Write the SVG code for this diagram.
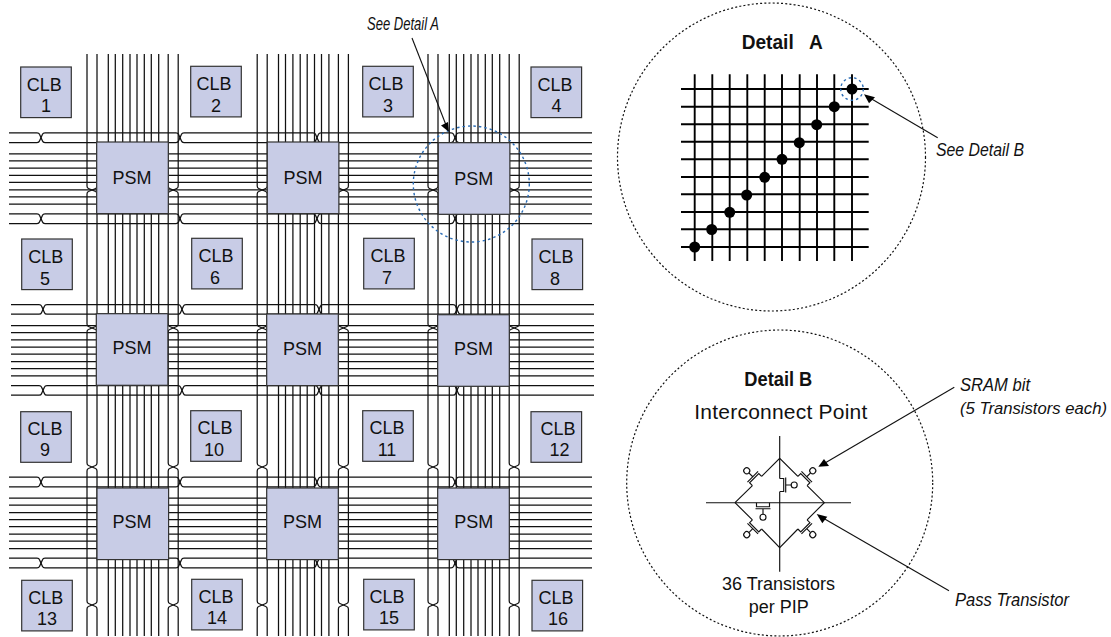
<svg xmlns="http://www.w3.org/2000/svg" width="1111" height="637" viewBox="0 0 1111 637">
<style>
text{font-family:"Liberation Sans",Arial,sans-serif;fill:#111;white-space:pre}
.n{font-size:18px;text-anchor:middle}
.note{font-family:"Liberation Sans Narrow","Liberation Sans",sans-serif;font-style:italic;font-size:19px}
.ttl{font-family:"Liberation Sans Narrow","Liberation Sans",sans-serif;font-weight:bold;font-size:21px}
.box{fill:#c8cce6;stroke:#333;stroke-width:1.2}
.w{fill:none;stroke:#111;stroke-width:1.25}
.g{fill:none;stroke:#000;stroke-width:1.9}
.t{fill:none;stroke:#111;stroke-width:1.15}
.ld{fill:none;stroke:#111;stroke-width:1.1}
.head{fill:#000;stroke:none}
.bd{fill:none;stroke:#2a6cb5;stroke-width:1.4;stroke-dasharray:2.5 3}
.kd{fill:none;stroke:#111;stroke-width:1.2;stroke-dasharray:2 2.2}
</style>
<defs>
<g id="hp">
<path class="w" d="M9 0H37Q39 0 39.5 1.5L42.5 8.2Q43 9.7 45 9.7H176Q178 9.7 178.5 8.2L181.5 1.5Q182 0 184 0H313Q315 0 315.5 1.5L318.5 8.2Q319 9.7 321 9.7H451Q453 9.7 453.5 8.2L456.5 1.5Q457 0 459 0H592"/>
<path class="w" d="M9 9.7H37Q39 9.7 39.5 8.2L42.5 1.5Q43 0 45 0H176Q178 0 178.5 1.5L181.5 8.2Q182 9.7 184 9.7H313Q315 9.7 315.5 8.2L318.5 1.5Q319 0 321 0H451Q453 0 453.5 1.5L456.5 8.2Q457 9.7 459 9.7H592"/>
</g>
<g id="hr">
<use href="#hp"/>
<use href="#hp" y="81"/>
<path class="w" d="M9 21H592M9 28H592M9 35.3H592M9 42.5H592M9 49.5H592M9 57H592M9 64H592M9 71.3H592"/>
</g>
<g id="vp">
<path class="w" d="M0 54V186Q0 188 1.5 188.5L8.5 191.5Q10 192 10 194V324Q10 326 8.5 326.5L1.5 329.5Q0 330 0 332V463Q0 465 1.5 465.5L8.5 468.5Q10 469 10 471V601Q10 603 8.5 603.5L1.5 606.5Q0 607 0 609V636"/>
<path class="w" d="M10 54V186Q10 188 8.5 188.5L1.5 191.5Q0 192 0 194V324Q0 326 1.5 326.5L8.5 329.5Q10 330 10 332V463Q10 465 8.5 465.5L1.5 468.5Q0 469 0 471V601Q0 603 1.5 603.5L8.5 606.5Q10 607 10 609V636"/>
</g>
<g id="vc">
<use href="#vp"/>
<use href="#vp" x="81.2"/>
<path class="w" d="M21.3 54V636M28.3 54V636M35.7 54V636M43 54V636M50 54V636M57.3 54V636M64.3 54V636M71.7 54V636"/>
</g>
<g id="tr">
<path class="t" d="M-6.5 0V4H6.5V0M-7.5 6H7.5M0 6V11.5"/>
<circle class="t" cx="0" cy="14.5" r="3"/>
</g>
</defs>

<g id="connectors">
<use href="#vc" x="87"/>
<use href="#vc" x="257.2"/>
<use href="#vc" x="428"/>
<use href="#hr" y="132.8"/>
<use href="#hr" x="2" y="304.5"/>
<use href="#hr" y="477.2"/>
</g>

<g id="clb1"><rect class="box" x="20.7" y="67" width="50.6" height="50.6"/><text class="n" x="44.3" y="90.7">CLB</text><text class="n" x="46" y="112.3">1</text></g>
<g id="clb2"><rect class="box" x="190.7" y="66.3" width="50.6" height="50.6"/><text class="n" x="214" y="90">CLB</text><text class="n" x="216" y="111.6">2</text></g>
<g id="clb3"><rect class="box" x="362.7" y="66.3" width="50.6" height="50.6"/><text class="n" x="386" y="90">CLB</text><text class="n" x="388" y="111.6">3</text></g>
<g id="clb4"><rect class="box" x="531" y="67" width="50.6" height="50.6"/><text class="n" x="555" y="90.7">CLB</text><text class="n" x="556.5" y="112.3">4</text></g>
<g id="clb5"><rect class="box" x="21.7" y="239" width="50.6" height="50.6"/><text class="n" x="45.7" y="263">CLB</text><text class="n" x="45" y="284.5">5</text></g>
<g id="clb6"><rect class="box" x="191.7" y="238.3" width="50.6" height="50.6"/><text class="n" x="216" y="262">CLB</text><text class="n" x="215" y="283.5">6</text></g>
<g id="clb7"><rect class="box" x="363.7" y="238.3" width="50.6" height="50.6"/><text class="n" x="388" y="262">CLB</text><text class="n" x="387" y="283.5">7</text></g>
<g id="clb8"><rect class="box" x="532" y="239" width="50.6" height="50.6"/><text class="n" x="556" y="263">CLB</text><text class="n" x="555" y="284.5">8</text></g>
<g id="clb9"><rect class="box" x="20.7" y="411.7" width="50.6" height="50.6"/><text class="n" x="45" y="434.5">CLB</text><text class="n" x="45" y="456">9</text></g>
<g id="clb10"><rect class="box" x="190.7" y="410.7" width="50.6" height="50.6"/><text class="n" x="215" y="434">CLB</text><text class="n" x="214" y="455.5">10</text></g>
<g id="clb11"><rect class="box" x="362.7" y="410.7" width="50.6" height="50.6"/><text class="n" x="387" y="434">CLB</text><text class="n" x="387" y="455.5">11</text></g>
<g id="clb12"><rect class="box" x="531" y="411.7" width="50.6" height="50.6"/><text class="n" x="558" y="434.5">CLB</text><text class="n" x="559.5" y="456">12</text></g>
<g id="clb13"><rect class="box" x="21.7" y="580.3" width="50.6" height="50.6"/><text class="n" x="45.7" y="603.5">CLB</text><text class="n" x="47" y="625">13</text></g>
<g id="clb14"><rect class="box" x="191.7" y="579.3" width="50.6" height="50.6"/><text class="n" x="216" y="602.5">CLB</text><text class="n" x="217" y="624">14</text></g>
<g id="clb15"><rect class="box" x="363.7" y="579.3" width="50.6" height="50.6"/><text class="n" x="387" y="602.5">CLB</text><text class="n" x="389" y="624">15</text></g>
<g id="clb16"><rect class="box" x="532" y="580.3" width="50.6" height="50.6"/><text class="n" x="556" y="603.5">CLB</text><text class="n" x="558" y="625">16</text></g>

<g id="psm1"><rect class="box" x="96.7" y="142" width="71.6" height="71.6"/><text class="n" x="132" y="184">PSM</text></g>
<g id="psm2"><rect class="box" x="267.3" y="142" width="71.6" height="71.6"/><text class="n" x="303" y="184">PSM</text></g>
<g id="psm3"><rect class="box" x="438.3" y="142.7" width="71.6" height="71.6"/><text class="n" x="473.7" y="185">PSM</text></g>
<g id="psm4"><rect class="box" x="96.3" y="313.7" width="71.6" height="71.6"/><text class="n" x="132" y="354.3">PSM</text></g>
<g id="psm5"><rect class="box" x="266.7" y="314" width="71.6" height="71.6"/><text class="n" x="302.5" y="354.5">PSM</text></g>
<g id="psm6"><rect class="box" x="437.7" y="314.7" width="71.6" height="71.6"/><text class="n" x="473.4" y="354.7">PSM</text></g>
<g id="psm7"><rect class="box" x="97" y="488" width="71.6" height="71.6"/><text class="n" x="132" y="528.3">PSM</text></g>
<g id="psm8"><rect class="box" x="266.7" y="488" width="71.6" height="71.6"/><text class="n" x="302.5" y="528.3">PSM</text></g>
<g id="psm9"><rect class="box" x="437.7" y="488" width="71.6" height="71.6"/><text class="n" x="473.7" y="528.3">PSM</text></g>

<circle class="bd" cx="471.3" cy="184" r="58"/>

<g id="callout-a">
<text class="note" x="367" y="30" style="font-size:17.5px" textLength="72" lengthAdjust="spacingAndGlyphs">See Detail A</text>
<path class="ld" d="M412 38L446 125"/>
<path class="head" d="M449 132L441 125.5L448 122Z"/>
</g>

<g id="detail-a">
<circle class="kd" cx="771.5" cy="157" r="154"/>
<text class="ttl" x="741.7" y="49" textLength="81" lengthAdjust="spacingAndGlyphs">Detail   A</text>
<path class="g" d="M694.7 74.3V261M712.3 74.3V261M729.7 74.3V261M747.3 74.3V261M764.7 74.3V261M782 74.3V261M799.7 74.3V261M817 74.3V261M834.3 74.3V261M852 74.3V261"/>
<path class="g" d="M681 89H868.7M681 106.7H868.7M681 124.3H868.7M681 141.7H868.7M681 159.3H868.7M681 177H868.7M681 194.3H868.7M681 212H868.7M681 229.3H868.7M681 247H868.7"/>
<g fill="#000">
<circle cx="694.7" cy="247" r="5.5"/><circle cx="711.7" cy="229.5" r="5.5"/><circle cx="729.7" cy="212.3" r="5.5"/><circle cx="746.7" cy="195" r="5.5"/><circle cx="764.7" cy="177.3" r="5.5"/><circle cx="782" cy="159.3" r="5.5"/><circle cx="799.3" cy="142.7" r="5.5"/><circle cx="816.7" cy="124.7" r="5.5"/><circle cx="834.3" cy="106.7" r="5.5"/><circle cx="852" cy="89" r="5.5"/>
</g>
<circle class="bd" cx="852" cy="89" r="11.3"/>
</g>

<g id="callout-b">
<text class="note" x="936" y="156" textLength="88" lengthAdjust="spacingAndGlyphs">See Detail B</text>
<path class="ld" d="M937.7 137.7L870 98"/>
<path class="head" d="M864 94.3L875 97.3L869 103.3Z"/>
</g>

<g id="detail-b">
<circle class="kd" cx="779.7" cy="483" r="153"/>
<text class="ttl" x="744.3" y="386" style="font-size:20px" textLength="68" lengthAdjust="spacingAndGlyphs">Detail B</text>
<text x="694.3" y="419.3" font-size="21" textLength="173">Interconnect Point</text>
<path class="t" d="M779.7 436V478.5M779.7 491.7V571.7M706 502.7H851"/>
<path class="t" d="M735 502.7L752.4 485.6M761.6 476.4L779.7 458.3L797.9 476.4M807.1 485.6L824.3 502.7L807.1 519.8M797.9 529L779.7 547.7L761.6 529M752.4 519.8L735 502.7"/>
<use href="#tr" transform="translate(763 502.7)"/>
<use href="#tr" transform="translate(779.7 485) rotate(-90)"/>
<use href="#tr" transform="translate(802.5 481) rotate(-135)"/>
<use href="#tr" transform="translate(802.5 524.4) rotate(-45)"/>
<use href="#tr" transform="translate(757 524.4) rotate(45)"/>
<use href="#tr" transform="translate(757 481) rotate(135)"/>
<text class="n" x="778.5" y="590">36 Transistors</text>
<text class="n" x="778.7" y="613">per PIP</text>
</g>

<g id="callout-sram">
<text class="note" x="960" y="390.7" textLength="70" lengthAdjust="spacingAndGlyphs">SRAM bit</text>
<text class="note" x="960" y="413.5" style="font-size:17.2px" textLength="147" lengthAdjust="spacingAndGlyphs">(5 Transistors each)</text>
<path class="ld" d="M954.3 387.3L825 463"/>
<path class="head" d="M818.3 466.7L824 459L829 466Z"/>
</g>
<g id="callout-pass">
<text class="note" x="955" y="605.7" textLength="114" lengthAdjust="spacingAndGlyphs">Pass Transistor</text>
<path class="ld" d="M949 590.7L823 518"/>
<path class="head" d="M816.7 514L827.3 516.7L822.3 523.3Z"/>
</g>
</svg>
